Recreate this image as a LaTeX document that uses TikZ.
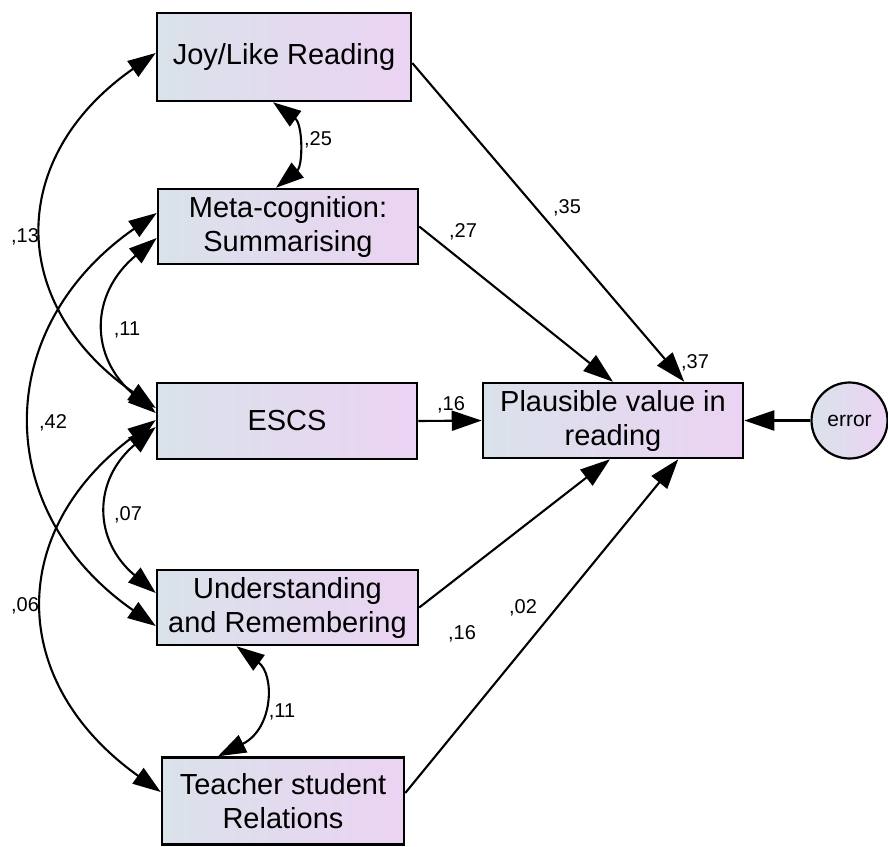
\documentclass[tikz,border=0pt]{standalone}
\usepackage{fontspec}
\setmainfont{Liberation Sans}
\usetikzlibrary{arrows.meta}
\definecolor{boxL}{HTML}{DAE2EA}
\definecolor{boxR}{HTML}{EBD3F3}
\begin{document}
\begin{tikzpicture}[x=1pt,y=-1pt,
  var/.style={draw=black, line width=2.5pt, left color=boxL, right color=boxR,
    inner sep=0pt, align=center, font=\fontsize{29}{34}\selectfont},
  errnode/.style={circle, draw=black, line width=2.2pt, left color=boxL, right color=boxR,
    minimum size=76pt, inner sep=0pt, font=\fontsize{21}{24}\selectfont},
  regarrow/.style={line width=2.1pt, -{Triangle[length=30pt,width=20pt]}},
  covarrow/.style={line width=2.1pt, {Triangle[length=28pt,width=19pt]}-{Triangle[length=28pt,width=19pt]}},
  est/.style={font=\fontsize{20}{24}\selectfont, inner sep=0pt}
]
\useasboundingbox (0,0) rectangle (888,846);

% variables
\node[var, minimum width=254pt, minimum height=88pt] (joy) at (284,57) {Joy/Like Reading};
\node[var, minimum width=260pt, minimum height=75pt] (meta) at (288,226.5) {Meta-cognition:\\Summarising};
\node[var, minimum width=260pt, minimum height=76pt] (escs) at (287,421) {ESCS};
\node[var, minimum width=261pt, minimum height=75pt] (und) at (287.5,607.5) {Understanding\\and Remembering};
\node[var, minimum width=242pt, minimum height=87pt] (tsr) at (283,801) {Teacher student\\Relations};
\node[var, minimum width=260pt, minimum height=75pt] (pv) at (613,420.5) {Plausible value in\\reading};
\node[errnode] (err) at (849.5,420.5) {error};

% regression paths
\draw[regarrow] ([yshift=-6pt]joy.east) -- ([xshift=-60pt]pv.north east);
\draw[regarrow] (meta.east) -- (pv.north);
\draw[regarrow] (escs.east) -- (pv.west);
\draw[regarrow] (und.east) -- ([xshift=-3pt]pv.south);
\draw[regarrow] ([yshift=8pt]tsr.east) -- ([xshift=-66pt]pv.south east);
\draw[regarrow] (err.west) -- (pv.east);

% covariances
\draw[covarrow] ([yshift=4pt]joy.west) .. controls +(-149,104) and +(-149,-104) .. ([yshift=13pt]escs.west);
\draw[covarrow] ([yshift=-11.5pt]meta.west) .. controls +(-67,56) and +(-67,-56) .. ([yshift=8pt]escs.west);
\draw[covarrow] ([yshift=13.5pt]meta.west) .. controls +(-165,115) and +(-165,-115) .. ([yshift=-18.5pt]und.west);
\draw[covarrow] ([yshift=-6pt]escs.west) .. controls +(-63,53) and +(-63,-53) .. ([yshift=14.5pt]und.west);
\draw[covarrow] ([yshift=1pt]escs.west) .. controls +(-149,110) and +(-154,-110) .. ([yshift=9pt]tsr.west);
\draw[covarrow] ([xshift=-11pt]joy.south) .. controls +(30,22) and +(27,-22) .. ([xshift=-12pt]meta.north);
\draw[covarrow] ([xshift=-51pt]und.south) .. controls +(38,28) and +(56,-28) .. ([xshift=-65pt]tsr.north);

% estimates
\node[est] (e25) at (318,140) {,25};
\node[est] (e35) at (567,208) {,35};
\node[est] (e27) at (463,232) {,27};
\node[est] (e37) at (695,363) {,37};
\node[est] (e16a) at (451,405) {,16};
\node[est] (e16b) at (462,634) {,16};
\node[est] (e02) at (523,608) {,02};
\node[est] (e13) at (25,237) {,13};
\node[est] (e11a) at (127,330) {,11};
\node[est] (e42) at (53,423) {,42};
\node[est] (e07) at (128,515) {,07};
\node[est] (e06) at (25,606) {,06};
\node[est] (e11b) at (282,712) {,11};
\end{tikzpicture}
\end{document}
